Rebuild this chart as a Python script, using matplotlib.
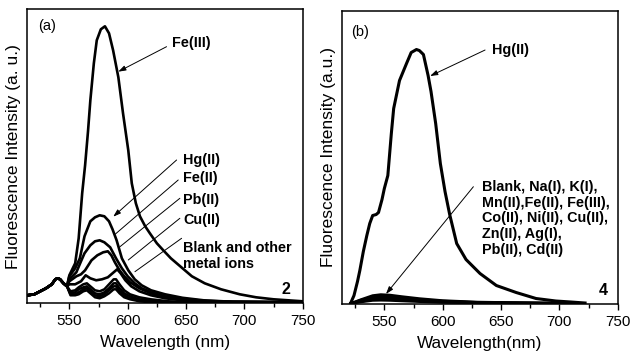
import numpy as np
import matplotlib
matplotlib.use("Agg")
import matplotlib.pyplot as plt

plt.rcParams['font.family'] = ['Liberation Sans', 'DejaVu Sans']

# ---- panel (a): probe 2, emission spectra (a.u.) ----
# shared rising edge and 540 nm band, same for all ions
base_nm = [514, 520, 525, 530, 535, 538, 540, 542, 545, 548]
base_h = [8, 9, 12, 15, 19, 24, 25, 24, 20, 17]

fe3_nm = [550, 555, 558, 561, 563.5, 566, 568, 571, 573.5, 577, 580.5, 584, 587.5, 590, 592,
          596, 600.5, 603.5, 607, 610.5, 615, 619, 625, 630.5, 637, 645, 655, 666, 680, 696,
          710, 725, 750]
fe3_h = [28, 40, 65, 110, 138, 172, 203, 240, 263, 274, 277, 270, 253, 238, 226,
         190, 153, 120, 100, 87, 77, 70, 60, 53, 45, 37, 27, 20, 14, 9,
         6, 4, 2]

hg_nm = [550, 555, 559, 563, 568, 572, 576, 580, 584, 587, 590.5, 595, 600.5, 606, 612,
         620, 632, 647, 665, 690, 750]
hg_h = [27, 35, 45, 67, 82, 86, 88, 87, 82, 74, 63, 45, 33, 24, 18,
        13, 9, 5.5, 3, 1.5, 1]

fe2_nm = [550, 556, 560, 563, 568, 572, 576, 580, 585, 590, 595, 600, 606, 612, 620,
          632, 647, 665, 690, 750]
fe2_h = [24, 31, 42, 50, 58, 62, 63, 61, 56, 45, 35, 27, 20, 15, 11,
         7, 4.5, 2.5, 1.5, 1]

pb_nm = [550, 556, 560, 563.5, 569, 574, 579, 583, 586, 589, 593, 597, 602, 610, 620,
         632, 647, 665, 690, 750]
pb_h = [22, 27, 29, 33, 43, 48, 51, 52, 48, 41, 33, 27, 21, 15, 10,
        6, 3.5, 2, 1, 1]

cu_nm = [550, 555, 560, 564, 568, 573, 578, 583, 587, 591, 594, 598, 603, 610, 620,
         632, 647, 665, 750]
cu_h = [19, 19, 22, 28, 25, 23, 24, 26, 30, 34, 30, 23, 17, 12, 8,
        5, 3, 2, 1]

# blank and the other metal ions
other_nm = [551, 555, 558, 562, 565, 568, 572, 576, 580, 584, 588, 590, 593, 597, 602,
            610, 620, 635, 650, 750]
other_h = [
    [12, 13, 16, 19, 20, 17, 13, 12, 14, 19, 24, 24, 19, 13, 9, 6, 4, 2, 1, 0.5],
    [10, 11, 14, 16, 17, 14, 10, 9, 11, 15, 20, 20, 15, 10, 7, 4, 3, 1.5, 1, 0.5],
    [9, 9, 11, 14, 15, 12, 8, 7, 9, 13, 17, 17, 12, 8, 5, 3, 2, 1, 0.5, 0.5],
    [8, 8, 9, 12, 13, 10, 6, 5, 7, 10, 14, 14, 10, 6, 4, 2, 1, 0.5, 0.5, 0.5],
]

# ---- panel (b): probe 4 ----
hgb_nm = [521, 524, 527, 529, 532, 535, 537.5, 540, 543, 545, 548, 550, 553, 556, 558,
          563, 569, 573, 577.5, 580, 583.5, 587.5, 590, 594, 598, 602, 606, 612, 620,
          632, 646, 663, 680, 697, 710, 722]
hgb_h = [0, 8, 22, 33, 52, 68, 80, 88, 89, 91, 104, 115, 128, 170, 195,
         223, 240, 251, 254, 253, 249, 228, 212, 180, 140, 112, 89, 60, 44,
         30, 18, 11, 5, 2.5, 1.5, 0.5]

low_nm = [521, 530, 540, 547, 555, 565, 580, 600, 630, 660, 700, 720]
low_h = [
    [0, 4, 8, 9, 8.5, 7, 5, 3, 1.5, 1, 0.5, 0],
    [0, 3.5, 6.5, 7.5, 7, 6, 4, 2.5, 1.2, 0.8, 0.4, 0],
    [0, 2.5, 5, 6, 5.5, 4.5, 3.2, 2, 1, 0.6, 0.3, 0],
    [0, 2, 4, 4.5, 4.2, 3.5, 2.5, 1.5, 0.8, 0.5, 0.2, 0],
    [0, 1.5, 3, 3.2, 3, 2.5, 1.8, 1, 0.6, 0.4, 0.2, 0],
]

fig = plt.figure(figsize=(6.31, 3.58), dpi=100)
ax1 = fig.add_axes([0.0433, 0.1528, 0.4365, 0.8207])
ax2 = fig.add_axes([0.5425, 0.1522, 0.4365, 0.8184])

for h in other_h:
    ax1.plot(base_nm + other_nm, base_h + h, color='black', lw=1.8)
for nm, h in [(cu_nm, cu_h), (pb_nm, pb_h), (fe2_nm, fe2_h), (hg_nm, hg_h), (fe3_nm, fe3_h)]:
    ax1.plot(base_nm + nm, base_h + h, color='black', lw=1.9)

for h in low_h:
    ax2.plot(low_nm, h, color='black', lw=1.8)
ax2.plot(hgb_nm, hgb_h, color='black', lw=2.2)

for ax in (ax1, ax2):
    ax.set_xlim(514, 750)
    ax.set_xticks([550, 600, 650, 700, 750])
    ax.set_xticks([525, 575, 625, 675, 725], minor=True)
    ax.set_yticks([])
    ax.tick_params(axis='x', which='major', direction='out', length=4, width=1, labelsize=11, pad=4)
    ax.tick_params(axis='x', which='minor', direction='out', length=3, width=1)
    for s in ax.spines.values():
        s.set_linewidth(1.1)
ax1.set_ylim(0, 293.8)
ax2.set_ylim(0, 293)

ax1.set_xlabel('Wavelength (nm)', fontsize=12.3, labelpad=5)
ax2.set_xlabel('Wavelength(nm)', fontsize=12.3, labelpad=5)
fig.text(14 / 631, 1 - 156.4 / 358, 'Fluorescence Intensity (a. u.)', rotation=90,
         ha='center', va='center', fontsize=12.5)
fig.text(328.5 / 631, 1 - 157 / 358, 'Fluorescence Intensity (a.u.)', rotation=90,
         ha='center', va='center', fontsize=12.5)

ax1.text(0.038, 0.945, '(a)', transform=ax1.transAxes, fontsize=10.5, va='center')
ax2.text(0.032, 0.925, '(b)', transform=ax2.transAxes, fontsize=10.5, va='center')
ax1.text(739, 13.3, '2', fontsize=11.5, fontweight='bold', ha='right', va='center')
ax2.text(741.5, 13.5, '4', fontsize=11.5, fontweight='bold', ha='right', va='center')

arrow = dict(arrowstyle='-|>,head_length=0.45,head_width=0.15', color='black', lw=0.7,
             shrinkA=0, shrinkB=0)
plain = dict(arrowstyle='-', color='black', lw=0.7, shrinkA=0, shrinkB=0)
bold = dict(fontsize=10.4, fontweight='bold', va='center', ha='left')

# panel (a) labels
ax1.annotate('', xy=(591.9, 231.6), xytext=(633.3, 256.6), arrowprops=arrow)
ax1.text(637.9, 260.3, 'Fe(III)', **bold)
ax1.annotate('', xy=(587.6, 86.6), xytext=(641.9, 143.3), arrowprops=arrow)
ax1.text(647.3, 143.3, 'Hg(II)', **bold)
ax1.annotate('', xy=(589.5, 69.3), xytext=(643.3, 123.3), arrowprops=plain)
ax1.text(647.3, 125, 'Fe(II)', **bold)
ax1.annotate('', xy=(593.4, 56.6), xytext=(644.7, 105), arrowprops=plain)
ax1.text(647.3, 103.3, 'Pb(II)', **bold)
ax1.annotate('', xy=(600.5, 43.3), xytext=(644.7, 85), arrowprops=plain)
ax1.text(647.3, 83.3, 'Cu(II)', **bold)
ax1.annotate('', xy=(606.2, 31.6), xytext=(646.2, 65), arrowprops=plain)
ax1.text(647.3, 47.5, 'Blank and other\nmetal ions', linespacing=1.15, **bold)

# panel (b) labels
ax2.annotate('', xy=(589.2, 227.5), xytext=(636.3, 253.5), arrowprops=arrow)
ax2.text(642, 253.5, 'Hg(II)', **bold)
ax2.annotate('', xy=(551.4, 9.5), xytext=(626.3, 116.8), arrowprops=arrow)
ax2.text(633.4, 85.2, 'Blank, Na(I), K(I),\nMn(II),Fe(II), Fe(III),\nCo(II), Ni(II), Cu(II),\n'
         'Zn(II), Ag(I),\nPb(II), Cd(II)', linespacing=1.15, **bold)

fig.savefig('out.png', dpi=100)
